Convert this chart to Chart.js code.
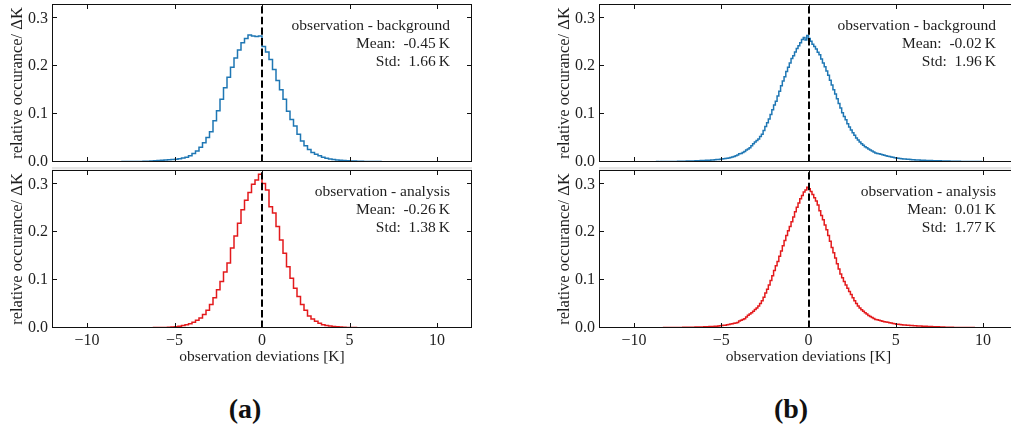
<!DOCTYPE html>
<html>
<head>
<meta charset="utf-8">
<title>Observation deviation histograms</title>
<script src="https://cdn.jsdelivr.net/npm/chart.js@4.4.1/dist/chart.umd.min.js"></script>
<style>
  html, body { margin: 0; padding: 0; background: #fff; }
  .wrap { position: relative; width: 1011px; height: 429px; overflow: hidden; }
  canvas { position: absolute; }
  .cap { position: absolute; top: 393px; font: bold 28px "Liberation Serif", serif; color: #111; transform: translateX(-50%); }
</style>
</head>
<body>
<div class="wrap">
  <canvas id="aTop" width="480" height="166" style="left:0;top:0"></canvas>
  <canvas id="aBot" width="480" height="200" style="left:0;top:166px"></canvas>
  <canvas id="bTop" width="480" height="166" style="left:547px;top:0"></canvas>
  <canvas id="bBot" width="480" height="200" style="left:547px;top:166px"></canvas>
  <div class="cap" style="left:245px">(a)</div>
  <div class="cap" style="left:791px">(b)</div>
</div>
<script>
// axis setup
const xTicks = [-10, -5, 0, 5, 10];
const yTicks = [0, 0.1, 0.2, 0.3];
const xRange = [-12, 12];
const yRange = [0, 0.33];
const xTitle = 'observation deviations [K]';
const yTitle = 'relative occurance/ \u0394K';

// (a) observation - background, 0.2 K bins starting at -11.6 K
const aBgStart = -11.6;
const aBgWidth = 0.2;
const aBgValues = [
  0.0002, 0.0002, 0.0002, 0.0003, 0.0002, 0.0003, 0.0003, 0.0003,
  0.0004, 0.0003, 0.0004, 0.0004, 0.0005,
  0.0005, 0.0005, 0.0006, 0.0006, 0.0007,
  0.0008, 0.0008, 0.0009, 0.0010, 0.0011,
  0.0012, 0.0014, 0.0017, 0.0022, 0.0027,
  0.0032, 0.0037, 0.0042, 0.0047, 0.0053,
  0.0060, 0.0070, 0.0082, 0.0100, 0.0130,
  0.0175, 0.0230, 0.0310, 0.0400, 0.0510,
  0.0630, 0.0860, 0.1070, 0.1310, 0.1550,
  0.1770, 0.1980, 0.2170, 0.2340, 0.2490,
  0.2580, 0.2650, 0.2630, 0.2620, 0.2630,
  0.2410, 0.2300, 0.2140, 0.1930, 0.1700,
  0.1510, 0.1310, 0.1060, 0.0890, 0.0750,
  0.0580, 0.0440, 0.0340, 0.0260, 0.0200,
  0.0160, 0.0130, 0.0100, 0.0080, 0.0063,
  0.0050, 0.0042, 0.0036, 0.0030, 0.0026,
  0.0022, 0.0019, 0.0016, 0.0014, 0.0012,
  0.0011, 0.0010, 0.0009, 0.0008, 0.0007,
  0.0007, 0.0006, 0.0006, 0.0005, 0.0005,
  0.0004, 0.0004, 0.0004, 0.0003, 0.0003,
  0.0003, 0.0003, 0.0003, 0.0002, 0.0002,
  0.0002, 0.0002, 0.0002, 0.0002, 0.0002,
  0.0001, 0.0001, 0.0001, 0.0001
];

// (a) observation - analysis, 0.2 K bins starting at -11.0 K
const aAnStart = -11.0;
const aAnWidth = 0.2;
const aAnValues = [
  0.0001, 0.0001, 0.0001, 0.0001, 0.0001,
  0.0001, 0.0001, 0.0002, 0.0002, 0.0002,
  0.0002, 0.0002, 0.0002, 0.0003, 0.0003,
  0.0003, 0.0003, 0.0004, 0.0004, 0.0004,
  0.0005, 0.0005, 0.0006, 0.0007, 0.0008,
  0.0009, 0.0011, 0.0013, 0.0016, 0.0020,
  0.0025, 0.0035, 0.0050, 0.0070, 0.0090,
  0.0120, 0.0160, 0.0210, 0.0280, 0.0370,
  0.0490, 0.0630, 0.0800, 0.0970, 0.1170,
  0.1360, 0.1670, 0.1920, 0.2190, 0.2470,
  0.2670, 0.2830, 0.3000, 0.3090, 0.3210,
  0.3020, 0.2880, 0.2530, 0.2400, 0.2120,
  0.1840, 0.1560, 0.1280, 0.1040, 0.0830,
  0.0660, 0.0490, 0.0370, 0.0250, 0.0190,
  0.0140, 0.0100, 0.0070, 0.0050, 0.0040,
  0.0030, 0.0024, 0.0019, 0.0015, 0.0012,
  0.0010, 0.0008, 0.0007, 0.0006, 0.0005,
  0.0005, 0.0004, 0.0004, 0.0004, 0.0003,
  0.0003, 0.0003, 0.0003, 0.0002, 0.0002,
  0.0002, 0.0002, 0.0002, 0.0002, 0.0002,
  0.0001, 0.0001, 0.0001, 0.0001, 0.0001,
  0.0001, 0.0001, 0.0001, 0.0001, 0.0001,
  0.0001, 0.0001, 0.0001, 0.0001
];

// (b) observation - background, 0.1 K bins starting at -11.5 K
const bBgStart = -11.5;
const bBgWidth = 0.1;
const bBgValues = [
  0.0003, 0.0002, 0.0003, 0.0003, 0.0002,
  0.0003, 0.0003, 0.0004, 0.0003, 0.0003, 0.0004, 0.0003, 0.0004, 0.0004, 0.0004,
  0.0004, 0.0005, 0.0004, 0.0005, 0.0005, 0.0005, 0.0006, 0.0005, 0.0006, 0.0006,
  0.0006, 0.0007, 0.0007, 0.0008, 0.0007, 0.0008, 0.0009, 0.0009, 0.0010, 0.0010,
  0.0011, 0.0011, 0.0012, 0.0013, 0.0013, 0.0014, 0.0015, 0.0016, 0.0017, 0.0018,
  0.0019, 0.0020, 0.0021, 0.0022, 0.0023, 0.0024, 0.0026, 0.0027, 0.0029, 0.0030,
  0.0032, 0.0034, 0.0036, 0.0038, 0.0041, 0.0044, 0.0047, 0.0050, 0.0054, 0.0058,
  0.0062, 0.0066, 0.0071, 0.0078, 0.0085, 0.0094, 0.0104, 0.0116, 0.0130, 0.0145,
  0.0170, 0.0180, 0.0200, 0.0220, 0.0250, 0.0270, 0.0300, 0.0340, 0.0380, 0.0420,
  0.0450, 0.0480, 0.0530, 0.0580, 0.0660, 0.0740, 0.0820, 0.0900, 0.0990, 0.1090,
  0.1190, 0.1270, 0.1380, 0.1480, 0.1590, 0.1690, 0.1780, 0.1890, 0.1980, 0.2070,
  0.2160, 0.2220, 0.2300, 0.2370, 0.2430, 0.2490, 0.2560, 0.2600, 0.2550, 0.2640,
  0.2580, 0.2520, 0.2460, 0.2410, 0.2360, 0.2290, 0.2240, 0.2150, 0.2070, 0.1990,
  0.1900, 0.1810, 0.1710, 0.1610, 0.1510, 0.1420, 0.1320, 0.1220, 0.1130, 0.1030,
  0.0950, 0.0880, 0.0800, 0.0730, 0.0670, 0.0610, 0.0560, 0.0500, 0.0460, 0.0420,
  0.0380, 0.0350, 0.0320, 0.0300, 0.0270, 0.0250, 0.0230, 0.0210, 0.0190, 0.0180,
  0.0170, 0.0160, 0.0150, 0.0140, 0.0130, 0.0120, 0.0115, 0.0105, 0.0098, 0.0090,
  0.0083, 0.0078, 0.0073, 0.0069, 0.0065, 0.0061, 0.0058, 0.0055, 0.0052, 0.0049,
  0.0046, 0.0044, 0.0042, 0.0040, 0.0038, 0.0036, 0.0035, 0.0033, 0.0032, 0.0031,
  0.0030, 0.0028, 0.0027, 0.0026, 0.0025, 0.0024, 0.0023, 0.0022, 0.0021, 0.0020,
  0.0019, 0.0018, 0.0017, 0.0016, 0.0016, 0.0015, 0.0014, 0.0013, 0.0013, 0.0012,
  0.0011, 0.0011, 0.0010, 0.0010, 0.0009, 0.0009, 0.0008, 0.0008, 0.0008, 0.0007,
  0.0007, 0.0007, 0.0006, 0.0006, 0.0006, 0.0005, 0.0005, 0.0005, 0.0005, 0.0004,
  0.0004, 0.0004, 0.0004, 0.0003, 0.0003
];

// (b) observation - analysis, 0.1 K bins starting at -11.4 K
const bAnStart = -11.4;
const bAnWidth = 0.1;
const bAnValues = [
  0.0002, 0.0002, 0.0002, 0.0002,
  0.0002, 0.0002, 0.0003, 0.0002, 0.0003, 0.0003, 0.0003, 0.0003, 0.0003, 0.0003,
  0.0003, 0.0004, 0.0003, 0.0004, 0.0004, 0.0004, 0.0004, 0.0005, 0.0004, 0.0005,
  0.0005, 0.0005, 0.0006, 0.0006, 0.0006, 0.0007, 0.0007, 0.0008, 0.0008, 0.0009,
  0.0009, 0.0010, 0.0010, 0.0011, 0.0011, 0.0012, 0.0012, 0.0013, 0.0014, 0.0014,
  0.0015, 0.0016, 0.0016, 0.0017, 0.0018, 0.0019, 0.0020, 0.0021, 0.0022, 0.0023,
  0.0024, 0.0026, 0.0027, 0.0029, 0.0031, 0.0033, 0.0036, 0.0039, 0.0042, 0.0046,
  0.0050, 0.0055, 0.0060, 0.0066, 0.0073, 0.0082, 0.0090, 0.0098, 0.0106, 0.0113,
  0.0148, 0.0160, 0.0175, 0.0195, 0.0230, 0.0265, 0.0290, 0.0320, 0.0350, 0.0385,
  0.0420, 0.0460, 0.0510, 0.0570, 0.0640, 0.0730, 0.0810, 0.0900, 0.0990, 0.1090,
  0.1200, 0.1300, 0.1390, 0.1500, 0.1610, 0.1720, 0.1830, 0.1930, 0.2030, 0.2120,
  0.2220, 0.2320, 0.2430, 0.2520, 0.2610, 0.2700, 0.2770, 0.2840, 0.2880, 0.2940,
  0.2910, 0.2850, 0.2790, 0.2720, 0.2650, 0.2570, 0.2450, 0.2350, 0.2260, 0.2150,
  0.2050, 0.1930, 0.1810, 0.1680, 0.1570, 0.1460, 0.1340, 0.1230, 0.1130, 0.1050,
  0.0970, 0.0900, 0.0830, 0.0760, 0.0700, 0.0630, 0.0570, 0.0510, 0.0460, 0.0420,
  0.0380, 0.0350, 0.0320, 0.0290, 0.0260, 0.0240, 0.0220, 0.0200, 0.0180, 0.0170,
  0.0160, 0.0150, 0.0140, 0.0130, 0.0125, 0.0120, 0.0110, 0.0102, 0.0094, 0.0087,
  0.0080, 0.0076, 0.0072, 0.0068, 0.0064, 0.0061, 0.0058, 0.0055, 0.0053, 0.0051,
  0.0049, 0.0046, 0.0044, 0.0042, 0.0040, 0.0038, 0.0036, 0.0035, 0.0033, 0.0031,
  0.0030, 0.0028, 0.0027, 0.0025, 0.0024, 0.0022, 0.0021, 0.0020, 0.0018, 0.0017,
  0.0016, 0.0015, 0.0014, 0.0013, 0.0013, 0.0012, 0.0011, 0.0011, 0.0010, 0.0010,
  0.0009, 0.0009, 0.0008, 0.0008, 0.0008, 0.0007, 0.0007, 0.0007, 0.0006, 0.0006,
  0.0006, 0.0005, 0.0005, 0.0005, 0.0005, 0.0004, 0.0004, 0.0004, 0.0004, 0.0003,
  0.0003, 0.0003, 0.0003, 0.0003
];

// text boxes in the upper right of each panel
const aBgLabel = ['observation - background', 'Mean:  -0.45\u2009K', 'Std:  1.66\u2009K'];
const aAnLabel = ['observation - analysis', 'Mean:  -0.26\u2009K', 'Std:  1.38\u2009K'];
const bBgLabel = ['observation - background', 'Mean:  -0.02\u2009K', 'Std:  1.96\u2009K'];
const bAnLabel = ['observation - analysis', 'Mean:  0.01\u2009K', 'Std:  1.77\u2009K'];

const serif = '"Liberation Serif", "DejaVu Serif", serif';
const ink = '#1e1e1e';

// step outline like matplotlib histtype='step'
function histPoints(start, width, values) {
  const pts = [{ x: start, y: 0 }];
  values.forEach((v, i) => pts.push({ x: start + i * width, y: v }));
  const end = start + values.length * width;
  pts.push({ x: end, y: values[values.length - 1] });
  pts.push({ x: end, y: 0 });
  return pts;
}

// frame, inward ticks on all sides, zero line and stats text
const framePlugin = {
  id: 'frame',
  afterDatasetsDraw(chart, args, opts) {
    const { ctx, chartArea: a, scales: { x, y } } = chart;
    ctx.save();

    if (opts.strip) {
      ctx.fillStyle = '#e6e6e6';
      ctx.fillRect(a.left, a.top - 3, a.right - a.left, 2.5);
    }

    const x0 = Math.round(x.getPixelForValue(0));
    ctx.strokeStyle = '#000';
    ctx.lineWidth = 2;
    ctx.setLineDash([7.4, 3.2]);
    ctx.beginPath();
    ctx.moveTo(x0, a.bottom);
    ctx.lineTo(x0, a.top);
    ctx.stroke();
    ctx.setLineDash([]);

    ctx.lineWidth = 1;
    ctx.strokeStyle = '#111';
    ctx.strokeRect(a.left + 0.5, a.top + 0.5, a.right - a.left - 1, a.bottom - a.top - 1);

    const len = 5;
    ctx.beginPath();
    xTicks.forEach(v => {
      const px = Math.round(x.getPixelForValue(v)) + 0.5;
      ctx.moveTo(px, a.bottom);
      ctx.lineTo(px, a.bottom - len);
      ctx.moveTo(px, a.top);
      ctx.lineTo(px, a.top + len);
    });
    yTicks.forEach(v => {
      const py = Math.round(y.getPixelForValue(v)) - 0.5;
      ctx.moveTo(a.left, py);
      ctx.lineTo(a.left + len, py);
      ctx.moveTo(a.right, py);
      ctx.lineTo(a.right - len, py);
    });
    ctx.stroke();

    ctx.fillStyle = ink;
    ctx.font = '15.5px ' + serif;
    ctx.textAlign = 'right';
    ctx.textBaseline = 'middle';
    const offsets = [22, 39.5, 57.5];
    opts.lines.forEach((t, i) => ctx.fillText(t, a.right - 22, a.top + offsets[i]));
    ctx.restore();
  }
};

function fmtX(v) {
  return v < 0 ? '\u2212' + Math.abs(v) : String(v);
}

function makePanel(id, start, width, values, color, lines, bottom, padRight) {
  return new Chart(document.getElementById(id), {
    type: 'line',
    data: {
      datasets: [{
        data: histPoints(start, width, values),
        borderColor: color,
        borderWidth: 1.5,
        pointRadius: 0,
        stepped: true,
        fill: false,
        tension: 0
      }]
    },
    options: {
      responsive: false,
      animation: false,
      devicePixelRatio: 1,
      layout: { padding: { top: 4, right: padRight, bottom: 0, left: 0 } },
      plugins: {
        legend: { display: false },
        tooltip: { enabled: false },
        frame: { lines: lines, strip: bottom }
      },
      scales: {
        x: {
          type: 'linear',
          min: xRange[0],
          max: xRange[1],
          afterBuildTicks: s => { s.ticks = xTicks.map(v => ({ value: v })); },
          afterFit: s => {
            s.height = bottom ? 38 : 4;
            s.paddingLeft = 0; s.paddingRight = 0;
          },
          grid: { display: false, drawTicks: false },
          border: { display: false },
          ticks: {
            display: bottom,
            padding: 3,
            color: ink,
            font: { family: serif, size: 16 },
            callback: v => fmtX(v)
          },
          title: {
            display: bottom,
            text: xTitle,
            color: ink,
            font: { family: serif, size: 15.5 },
            padding: { top: 0, bottom: 0 }
          }
        },
        y: {
          min: yRange[0],
          max: yRange[1],
          afterBuildTicks: s => { s.ticks = yTicks.map(v => ({ value: v })); },
          afterFit: s => {
            s.width = 52;
            s.paddingTop = 0; s.paddingBottom = 0;
          },
          grid: { display: false, drawTicks: false },
          border: { display: false },
          ticks: {
            padding: 4,
            color: ink,
            font: { family: serif, size: 16 },
            callback: v => Number(v).toFixed(1)
          },
          title: {
            display: true,
            text: yTitle,
            color: ink,
            font: { family: serif, size: 16.5 },
            padding: { top: 7.6, bottom: 0 }
          }
        }
      }
    },
    plugins: [framePlugin]
  });
}

makePanel('aTop', aBgStart, aBgWidth, aBgValues, '#1f77b4', aBgLabel, false, 8);
makePanel('aBot', aAnStart, aAnWidth, aAnValues, '#e31a1c', aAnLabel, true, 8);
makePanel('bTop', bBgStart, bBgWidth, bBgValues, '#1f77b4', bBgLabel, false, 9);
makePanel('bBot', bAnStart, bAnWidth, bAnValues, '#e31a1c', bAnLabel, true, 9);
</script>
</body>
</html>
